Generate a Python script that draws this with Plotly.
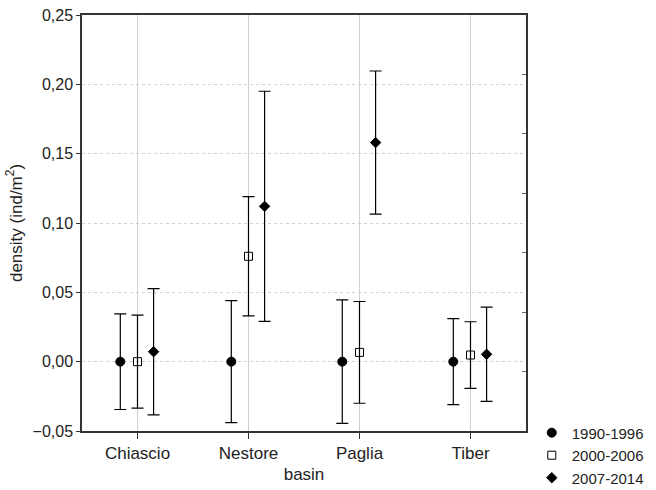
import plotly.graph_objects as go

basins = ["Chiascio", "Nestore", "Paglia", "Tiber"]
series_names = ["1990-1996", "2000-2006", "2007-2014"]
means = [
    [0.0, 0.0, 0.0, 0.0],
    [0.0, 0.076, 0.0067, 0.0048],
    [0.0072, 0.112, 0.158, 0.0053],
]
errors = [
    [0.0345, 0.044, 0.0445, 0.031],
    [0.0335, 0.043, 0.0367, 0.024],
    [0.0455, 0.083, 0.0516, 0.034],
]
offsets = [-0.155, 0.0, 0.145]
y_ticks = [-0.05, 0.0, 0.05, 0.10, 0.15, 0.20, 0.25]

marker_styles = [
    dict(symbol="circle", size=9, color="black", line=dict(color="black", width=1)),
    dict(symbol="square-open", size=8, color="black", line=dict(color="black", width=1)),
    dict(symbol="diamond", size=8, color="black", line=dict(color="black", width=1)),
]

fig = go.Figure()
for i, name in enumerate(series_names):
    xs = [j + offsets[i] for j in range(len(basins))]
    fig.add_trace(go.Scatter(
        x=xs, y=means[i], mode="markers", name=name,
        marker=marker_styles[i],
        error_y=dict(type="data", array=errors[i], visible=True,
                     color="black", thickness=1.2, width=6),
    ))

# invisible trace for right-hand tick axis
fig.add_trace(go.Scatter(x=[0], y=[0], yaxis="y2", mode="markers",
                         marker=dict(opacity=0), showlegend=False, hoverinfo="skip"))

fig.update_layout(
    width=656, height=490,
    margin=dict(l=82, r=130, t=15, b=59, autoexpand=False),
    paper_bgcolor="white", plot_bgcolor="white",
    separators=", ",
    font=dict(family="Liberation Sans, Arial, sans-serif", size=16, color="#222"),
    showlegend=True,
    legend=dict(x=1.013, xanchor="left", y=0.035, yanchor="top",
                font=dict(size=15, color="#222"), tracegroupgap=0,
                bgcolor="rgba(0,0,0,0)"),
    xaxis=dict(
        range=[-0.5, 3.5], tickmode="array", tickvals=list(range(len(basins))),
        ticktext=basins, showgrid=True, gridcolor="#d0d0d0", gridwidth=1,
        showline=True, linecolor="#333", linewidth=1.5, mirror=True,
        ticks="outside", ticklen=6, tickcolor="#333", zeroline=False,
        title=dict(text="basin", font=dict(size=17), standoff=6),
        tickfont=dict(size=17),
    ),
    yaxis=dict(
        range=[-0.05, 0.25], tickmode="array", tickvals=y_ticks, tickformat=".2f",
        showgrid=True, gridcolor="#d0d0d0", gridwidth=1, griddash="dot",
        showline=True, linecolor="#333", linewidth=1.5, mirror=True,
        ticks="outside", ticklen=4, tickcolor="#333", zeroline=False,
        tickfont=dict(size=16),
        title=dict(text="density (ind/m<sup>2</sup>)", font=dict(size=17), standoff=6),
    ),
    yaxis2=dict(
        range=[0, 7], dtick=1, overlaying="y", side="right", ticks="inside",
        ticklen=4, tickcolor="#666", showticklabels=False, showgrid=False,
        zeroline=False, showline=False,
    ),
)

fig.write_html("out.html")
